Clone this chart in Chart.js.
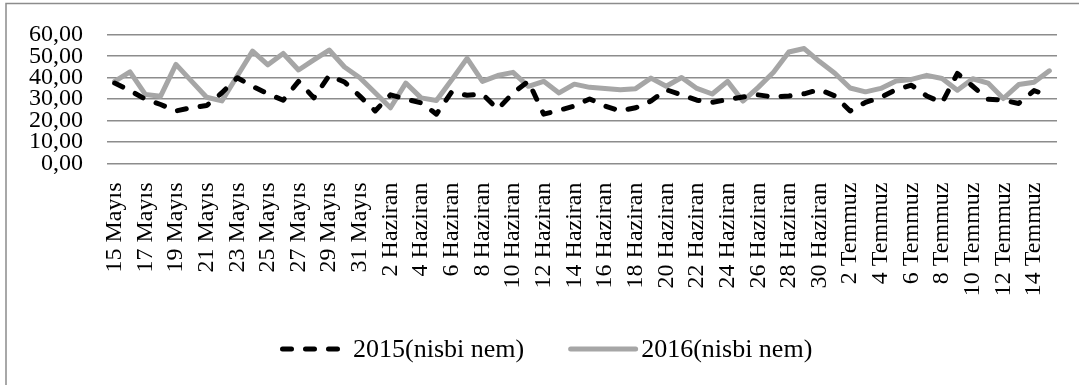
<!DOCTYPE html>
<html>
<head>
<meta charset="utf-8">
<script src="https://cdn.jsdelivr.net/npm/chart.js@4.4.1/dist/chart.umd.min.js"></script>
<style>
  html, body { margin: 0; padding: 0; background: #ffffff; }
  #wrap { width: 1079px; height: 385px; position: relative; }
</style>
</head>
<body>
<div id="wrap"><canvas id="chart" width="1079" height="385"></canvas></div>
<script>
// Daily dates, 15 May – 15 July
const days = [
  '15 Mayıs', '16 Mayıs', '17 Mayıs', '18 Mayıs', '19 Mayıs', '20 Mayıs', '21 Mayıs', '22 Mayıs',
  '23 Mayıs', '24 Mayıs', '25 Mayıs', '26 Mayıs', '27 Mayıs', '28 Mayıs', '29 Mayıs', '30 Mayıs',
  '31 Mayıs', '1 Haziran', '2 Haziran', '3 Haziran', '4 Haziran', '5 Haziran', '6 Haziran', '7 Haziran',
  '8 Haziran', '9 Haziran', '10 Haziran', '11 Haziran', '12 Haziran', '13 Haziran', '14 Haziran', '15 Haziran',
  '16 Haziran', '17 Haziran', '18 Haziran', '19 Haziran', '20 Haziran', '21 Haziran', '22 Haziran', '23 Haziran',
  '24 Haziran', '25 Haziran', '26 Haziran', '27 Haziran', '28 Haziran', '29 Haziran', '30 Haziran', '1 Temmuz',
  '2 Temmuz', '3 Temmuz', '4 Temmuz', '5 Temmuz', '6 Temmuz', '7 Temmuz', '8 Temmuz', '9 Temmuz',
  '10 Temmuz', '11 Temmuz', '12 Temmuz', '13 Temmuz', '14 Temmuz', '15 Temmuz'
];

// Relative humidity (%)
const humidity2015 = [
  37.5, 34.0, 30.0, 27.5, 24.5, 26.0, 27.0, 33.0, 40.0, 36.0,
  32.5, 29.5, 38.3, 30.6, 41.0, 38.0, 31.4, 24.5, 32.0, 30.0,
  28.3, 23.0, 33.4, 31.8, 32.4, 25.3, 32.9, 38.3, 23.0, 24.8,
  26.8, 30.1, 26.8, 24.5, 26.0, 29.1, 34.4, 32.0, 29.5, 28.5,
  29.8, 31.0, 32.0, 31.0, 31.5, 32.5, 34.5, 31.5, 24.5, 28.5,
  30.8, 34.5, 36.5, 31.5, 28.3, 42.0, 36.0, 30.0, 29.5, 28.0,
  34.0, 31.4
];
const humidity2016 = [
  38.3, 42.7, 32.2, 31.4, 46.2, 38.5, 30.9, 29.2, 40.8, 52.4,
  46.0, 51.3, 43.6, 48.3, 52.9, 45.0, 40.0, 33.0, 26.0, 37.5,
  30.6, 29.4, 39.0, 49.0, 38.3, 41.0, 42.5, 36.0, 38.3, 32.9,
  37.0, 35.5, 35.0, 34.4, 34.9, 39.8, 36.0, 40.1, 35.0, 32.4,
  38.3, 29.1, 35.5, 42.5, 52.0, 53.6, 47.5, 42.1, 35.2, 33.4,
  35.0, 38.5, 39.2, 41.1, 39.6, 34.2, 39.5, 37.5, 30.3, 36.8,
  37.9, 43.2
];

const seriesNames = ['2015(nisbi nem)', '2016(nisbi nem)'];

const FAMILY = '"Liberation Serif"';
const GRID = '#8c8c8c';
const DASH = [9, 14];

// Thin outer frame around the whole chart
const framePlugin = {
  id: 'frame',
  beforeDraw(chart) {
    const ctx = chart.ctx;
    ctx.save();
    ctx.fillStyle = '#ffffff';
    ctx.fillRect(0, 0, chart.width, chart.height);
    ctx.strokeStyle = GRID;
    ctx.lineWidth = 1.5;
    ctx.strokeRect(6, 3.5, chart.width + 20, chart.height + 20);
    ctx.restore();
  }
};

// Legend row under the axis: line sample followed by the series name
const legendPlugin = {
  id: 'lineLegend',
  afterDraw(chart) {
    const ctx = chart.ctx;
    const y = 349;
    const sample = 70;
    ctx.save();
    ctx.font = '26px ' + FAMILY;
    ctx.textBaseline = 'middle';
    ctx.fillStyle = '#000000';
    const items = chart.data.datasets.map(ds => ({
      text: ds.label,
      color: ds.borderColor,
      dash: ds.borderDash || [],
      width: ctx.measureText(ds.label).width
    }));
    const gap = 44;
    let x = 280;
    items.forEach(it => {
      ctx.beginPath();
      ctx.setLineDash(it.dash);
      ctx.lineCap = 'round';
      ctx.lineWidth = 5;
      ctx.strokeStyle = it.color;
      ctx.moveTo(x + 2.5, y);
      ctx.lineTo(x + sample - 2.5, y);
      ctx.stroke();
      ctx.setLineDash([]);
      ctx.fillText(it.text, x + sample + 3, y + 1);
      x += sample + 3 + it.width + gap;
    });
    ctx.restore();
  }
};

function draw() {
  new Chart(document.getElementById('chart'), {
    type: 'line',
    data: {
      labels: days,
      datasets: [
        {
          label: seriesNames[0],
          data: humidity2015,
          borderColor: '#000000',
          backgroundColor: '#000000',
          borderWidth: 5,
          borderDash: DASH,
          borderCapStyle: 'round',
          borderJoinStyle: 'round',
          pointRadius: 0,
          tension: 0
        },
        {
          label: seriesNames[1],
          data: humidity2016,
          borderColor: '#a6a6a6',
          backgroundColor: '#a6a6a6',
          borderWidth: 5,
          borderCapStyle: 'round',
          borderJoinStyle: 'round',
          pointRadius: 0,
          tension: 0
        }
      ]
    },
    options: {
      responsive: false,
      animation: false,
      devicePixelRatio: 1,
      layout: { padding: { left: 20, right: 22, top: 22, bottom: 80 } },
      plugins: {
        legend: { display: false },
        tooltip: { enabled: false }
      },
      scales: {
        x: {
          offset: true,
          afterFit(scale) { scale.paddingRight = 0; scale.paddingLeft = 0; },
          grid: { display: false, drawTicks: false },
          border: { display: false },
          ticks: {
            autoSkip: false,
            maxRotation: 90,
            minRotation: 90,
            padding: 19,
            color: '#000000',
            font: { family: FAMILY, size: 24 },
            callback(value, index) { return index % 2 === 0 ? days[index] : ''; }
          }
        },
        y: {
          min: 0,
          max: 60,
          afterFit(scale) { scale.width = 87; },
          grid: { color: GRID, lineWidth: 1.5, drawTicks: false },
          border: { display: false },
          ticks: {
            stepSize: 10,
            autoSkip: false,
            padding: 24,
            color: '#000000',
            font: { family: FAMILY, size: 24, lineHeight: 0.9 },
            callback(value) { return value.toFixed(2).replace('.', ','); }
          }
        }
      }
    },
    plugins: [framePlugin, legendPlugin]
  });
}

if (document.fonts && document.fonts.load) {
  document.fonts.load('24px "Liberation Serif"').then(draw, draw);
} else {
  draw();
}
</script>
</body>
</html>
